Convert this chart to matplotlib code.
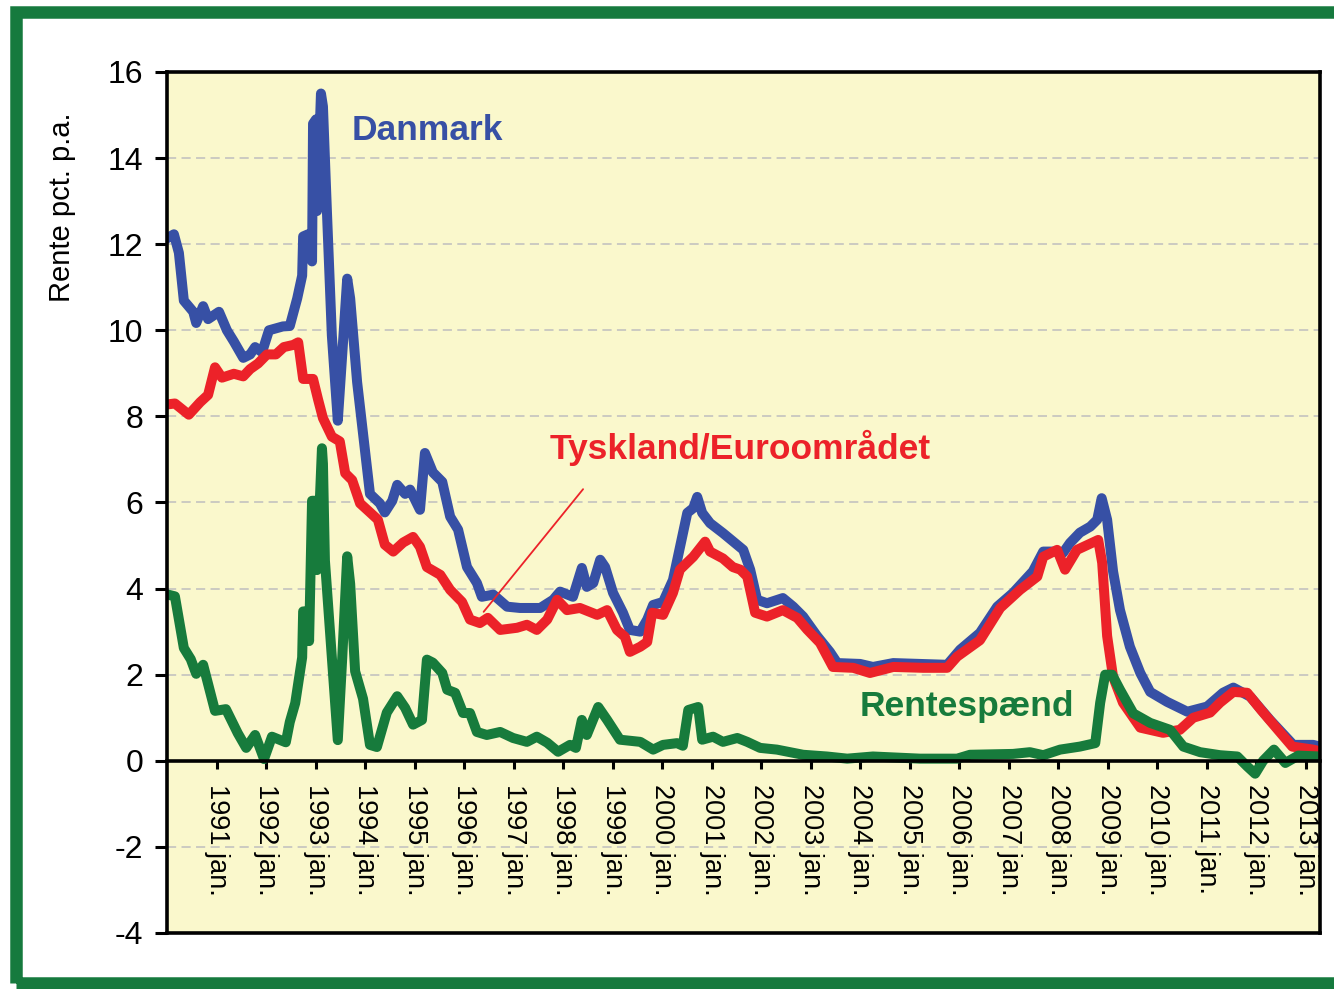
import matplotlib.pyplot as plt
from matplotlib.patches import Rectangle

plt.rcParams['font.family'] = ['Liberation Sans', 'DejaVu Sans']
plt.rcParams['axes.unicode_minus'] = False

# Danmark (blue)
dk_year = [1990.02, 1990.14, 1990.24, 1990.34, 1990.53, 1990.59, 1990.73, 1990.83, 1991.05, 1991.21,
           1991.35, 1991.54, 1991.68, 1991.78, 1991.92, 1992.06, 1992.34, 1992.48, 1992.63, 1992.73,
           1992.75, 1992.85, 1992.93, 1992.95, 1993.01, 1993.03, 1993.11, 1993.15, 1993.23, 1993.33,
           1993.45, 1993.54, 1993.64, 1993.70, 1993.84, 1994.00, 1994.10, 1994.30, 1994.40, 1994.55,
           1994.65, 1994.81, 1994.91, 1995.11, 1995.21, 1995.37, 1995.56, 1995.72, 1995.88, 1996.06,
           1996.26, 1996.36, 1996.59, 1996.87, 1997.13, 1997.54, 1997.80, 1997.94, 1998.20, 1998.38,
           1998.48, 1998.61, 1998.75, 1998.85, 1999.01, 1999.21, 1999.35, 1999.56, 1999.70, 1999.82,
           2000.02, 2000.22, 2000.51, 2000.63, 2000.71, 2000.81, 2000.97, 2001.23, 2001.43, 2001.64,
           2001.78, 2001.92, 2002.12, 2002.44, 2002.65, 2002.85, 2003.13, 2003.39, 2003.54, 2004.00,
           2004.26, 2004.67, 2005.21, 2005.76, 2006.02, 2006.42, 2006.77, 2007.09, 2007.49, 2007.70,
           2007.98, 2008.10, 2008.24, 2008.44, 2008.65, 2008.79, 2008.88, 2008.99, 2009.11, 2009.25,
           2009.45, 2009.66, 2009.86, 2010.20, 2010.61, 2011.01, 2011.33, 2011.54, 2011.88, 2012.28,
           2012.75, 2013.15, 2013.29]
dk_rate = [12.15, 12.23, 11.8, 10.69, 10.43, 10.17, 10.56, 10.26, 10.43, 10.0,
           9.74, 9.36, 9.44, 9.61, 9.49, 10.0, 10.09, 10.1, 10.74, 11.27,
           12.18, 12.23, 11.6, 14.8, 14.9, 12.77, 15.5, 15.2, 12.77, 9.88,
           7.9, 9.45, 11.2, 10.74, 8.8, 7.2, 6.2, 5.98, 5.77, 6.04,
           6.41, 6.2, 6.3, 5.83, 7.15, 6.7, 6.48, 5.67, 5.37, 4.5,
           4.13, 3.81, 3.86, 3.58, 3.55, 3.55, 3.74, 3.93, 3.81, 4.48,
           4.04, 4.13, 4.67, 4.5, 3.9, 3.44, 3.04, 3.0, 3.28, 3.62,
           3.69, 4.2, 5.76, 5.87, 6.13, 5.76, 5.52, 5.29, 5.1, 4.9,
           4.44, 3.74, 3.66, 3.78, 3.58, 3.35, 2.9, 2.53, 2.27, 2.25,
           2.18, 2.27, 2.25, 2.23, 2.58, 2.97, 3.58, 3.9, 4.4, 4.86,
           4.86, 4.83, 5.06, 5.3, 5.44, 5.6, 6.1, 5.6, 4.4, 3.5,
           2.65, 2.04, 1.6, 1.37, 1.14, 1.26, 1.58, 1.7, 1.49, 0.95,
           0.37, 0.37, 0.33]

# Tyskland/Euroomraadet (red)
de_year = [1990.02, 1990.16, 1990.44, 1990.67, 1990.83, 1990.97, 1991.11, 1991.35, 1991.54, 1991.68,
           1991.84, 1992.02, 1992.20, 1992.36, 1992.55, 1992.65, 1992.75, 1992.95, 1993.05, 1993.15,
           1993.33, 1993.49, 1993.60, 1993.74, 1993.90, 1994.10, 1994.26, 1994.40, 1994.57, 1994.77,
           1994.97, 1995.11, 1995.25, 1995.52, 1995.72, 1995.96, 1996.12, 1996.32, 1996.48, 1996.73,
           1997.07, 1997.27, 1997.47, 1997.68, 1997.88, 1998.08, 1998.34, 1998.69, 1998.89, 1999.09,
           1999.25, 1999.35, 1999.56, 1999.70, 1999.80, 2000.02, 2000.22, 2000.36, 2000.63, 2000.87,
           2000.97, 2001.23, 2001.43, 2001.58, 2001.72, 2001.88, 2002.12, 2002.44, 2002.73, 2002.93,
           2003.19, 2003.45, 2003.86, 2004.20, 2004.67, 2005.27, 2005.76, 2005.96, 2006.42, 2006.83,
           2007.23, 2007.58, 2007.70, 2007.98, 2008.14, 2008.38, 2008.81, 2008.89, 2008.99, 2009.11,
           2009.31, 2009.66, 2010.12, 2010.46, 2010.73, 2011.07, 2011.27, 2011.54, 2011.82, 2012.10,
           2012.44, 2012.73, 2013.15, 2013.29]
de_rate = [8.28, 8.3, 8.04, 8.33, 8.5, 9.14, 8.9, 8.99, 8.93, 9.1,
           9.23, 9.44, 9.44, 9.61, 9.66, 9.72, 8.87, 8.87, 8.4, 7.96,
           7.53, 7.42, 6.68, 6.52, 5.98, 5.77, 5.6, 5.02, 4.86, 5.07,
           5.2, 4.97, 4.5, 4.32, 3.97, 3.69, 3.28, 3.2, 3.32, 3.04,
           3.09, 3.16, 3.04, 3.28, 3.74, 3.5, 3.55, 3.39, 3.5, 3.04,
           2.88, 2.53, 2.65, 2.76, 3.44, 3.39, 3.9, 4.44, 4.74, 5.09,
           4.86, 4.7, 4.5, 4.44, 4.28, 3.44, 3.35, 3.5, 3.32, 3.05,
           2.74, 2.18, 2.16, 2.04, 2.18, 2.16, 2.16, 2.42, 2.8, 3.55,
           3.97, 4.28, 4.74, 4.9, 4.44, 4.9, 5.13, 4.6, 2.9, 1.95,
           1.35, 0.77, 0.65, 0.72, 1.0, 1.12, 1.35, 1.6, 1.58, 1.18,
           0.72, 0.33, 0.26, 0.22]

# Rentespaend (green)
sp_year = [1990.02, 1990.16, 1990.34, 1990.48, 1990.59, 1990.73, 1990.97, 1991.19, 1991.43, 1991.60,
           1991.78, 1991.96, 1992.12, 1992.40, 1992.48, 1992.59, 1992.73, 1992.75, 1992.85, 1992.87,
           1992.93, 1992.99, 1993.03, 1993.13, 1993.15, 1993.19, 1993.33, 1993.45, 1993.54, 1993.64,
           1993.70, 1993.80, 1993.96, 1994.10, 1994.24, 1994.44, 1994.65, 1994.81, 1994.97, 1995.15,
           1995.25, 1995.37, 1995.56, 1995.66, 1995.82, 1995.98, 1996.12, 1996.26, 1996.46, 1996.73,
           1996.99, 1997.27, 1997.47, 1997.68, 1997.90, 1998.14, 1998.26, 1998.38, 1998.48, 1998.71,
           1998.89, 1999.15, 1999.56, 1999.82, 2000.02, 2000.30, 2000.42, 2000.53, 2000.73, 2000.81,
           2001.03, 2001.23, 2001.52, 2001.72, 2001.98, 2002.32, 2002.85, 2003.33, 2003.74, 2004.26,
           2005.21, 2005.96, 2006.22, 2007.09, 2007.43, 2007.70, 2008.04, 2008.44, 2008.75, 2008.85,
           2008.95, 2009.09, 2009.25, 2009.52, 2009.86, 2010.26, 2010.53, 2010.87, 2011.27, 2011.62,
           2011.82, 2011.98, 2012.14, 2012.36, 2012.59, 2012.85, 2013.29]
sp_rate = [3.86, 3.82, 2.62, 2.36, 2.02, 2.23, 1.16, 1.2, 0.64, 0.3,
           0.6, 0.04, 0.56, 0.43, 0.9, 1.34, 2.4, 3.47, 3.47, 2.78,
           6.04, 6.04, 4.43, 7.26, 6.9, 4.65, 2.4, 0.48, 2.4, 4.75,
           4.11, 2.08, 1.44, 0.37, 0.32, 1.12, 1.5, 1.23, 0.84, 0.95,
           2.35, 2.28, 2.04, 1.65, 1.58, 1.11, 1.11, 0.67, 0.6, 0.67,
           0.53, 0.44, 0.56, 0.42, 0.21, 0.37, 0.3, 0.95, 0.6, 1.25,
           0.95, 0.49, 0.44, 0.26, 0.37, 0.41, 0.35, 1.18, 1.25, 0.49,
           0.56, 0.44, 0.53, 0.44, 0.3, 0.26, 0.14, 0.1, 0.05, 0.1,
           0.05, 0.05, 0.14, 0.16, 0.2, 0.13, 0.26, 0.33, 0.41, 1.35,
           2.0, 2.0, 1.65, 1.1, 0.88, 0.72, 0.33, 0.2, 0.13, 0.1,
           -0.13, -0.3, 0.0, 0.26, -0.05, 0.12, 0.1]

tick_years = list(range(1991, 2014))
tick_labels = [f'{y} jan.' for y in tick_years]
y_ticks = list(range(-4, 17, 2))

BLUE = '#3750A5'
RED = '#EC2229'
GREEN = '#177B3C'

fig = plt.figure(figsize=(13.34, 9.89), dpi=100)
ax = fig.add_axes([167 / 1334, 1 - 933 / 989, (1320 - 167) / 1334, (933 - 72) / 989])
ax.set_facecolor('#FAF8CC')

# x axis sits on the zero line (this resets the ticks, so do it first)
ax.spines['bottom'].set_position(('data', 0))

ax.plot(dk_year, dk_rate, color=BLUE, lw=7.2, solid_joinstyle='round', zorder=3)
ax.plot(de_year, de_rate, color=RED, lw=7.2, solid_joinstyle='round', zorder=4)
ax.plot(sp_year, sp_rate, color=GREEN, lw=7.2, solid_joinstyle='round', zorder=5)

ax.set_xlim(1990, 2013.29)
ax.set_ylim(-4, 16)

ax.set_yticks(y_ticks)
ax.set_yticklabels([str(v) for v in y_ticks])
ax.set_xticks(tick_years)
ax.set_xticklabels(tick_labels)

ax.tick_params(axis='y', direction='out', length=9, width=2.2, pad=8, labelsize=23)
ax.tick_params(axis='x', direction='out', length=6, width=2.2, pad=11, labelsize=19.5, labelrotation=270)

ax.yaxis.grid(True, linestyle=(0, (6, 3.5)), color='#BEBEBE', lw=1.1, zorder=1)
ax.set_axisbelow(True)

for s in ax.spines.values():
    s.set_linewidth(2.6)
    s.set_zorder(6)
ax.axhline(-4, color='black', lw=2.6, clip_on=False, zorder=6)

fig.text(62 / 1334, 1 - 207 / 989, 'Rente pct. p.a.', rotation=90, ha='center', va='center', fontsize=21)

ax.text(1995.25, 14.63, 'Danmark', color=BLUE, fontsize=25.5, fontweight='bold', ha='center', va='center')
ax.text(2001.58, 7.27, 'Tyskland/Euroområdet', color=RED, fontsize=25.5, fontweight='bold', ha='center', va='center')
ax.text(2006.16, 1.25, 'Rentespænd', color=GREEN, fontsize=25.5, fontweight='bold', ha='center', va='center')
ax.annotate('', xy=(1996.36, 3.41), xytext=(1998.44, 6.36),
            arrowprops=dict(arrowstyle='-', color=RED, lw=1.3), zorder=7)

fig.add_artist(Rectangle((15.5 / 1334, 1 - 983 / 989), 1.1, (983 - 11.5) / 989, transform=fig.transFigure,
                         fill=False, edgecolor='#167A3E', lw=9, clip_on=False))

fig.savefig('out.png', dpi=100, facecolor='white')
